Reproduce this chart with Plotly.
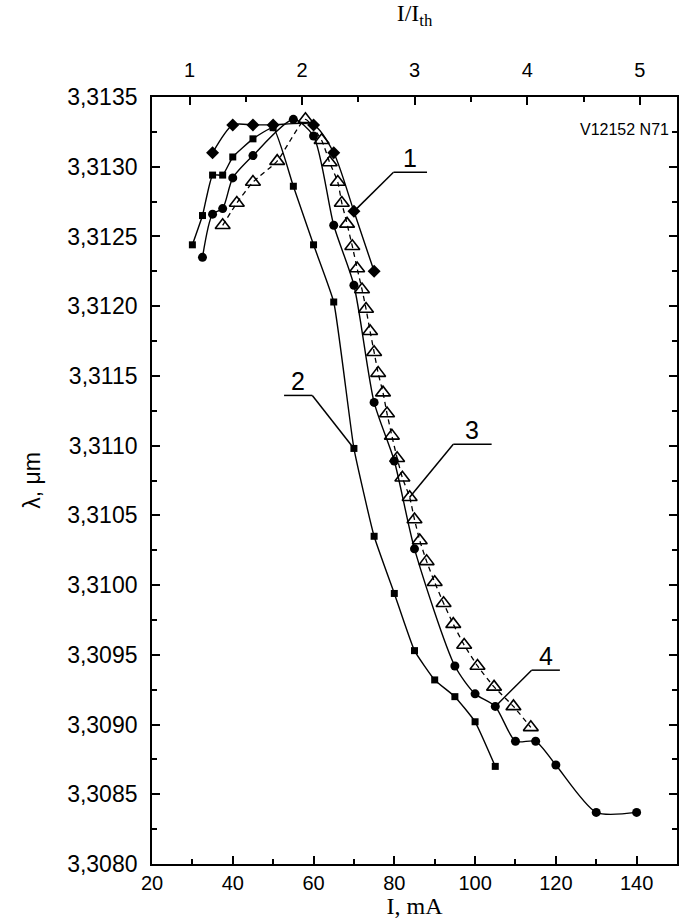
import plotly.graph_objects as go

# ---- measured data: lasing wavelength vs. drive current ----
# curve 1 (filled diamonds)
i1 = [35, 40, 45, 50, 60, 65, 70, 75]
lam1 = [3.31310, 3.31330, 3.31330, 3.31330, 3.31330, 3.31310, 3.31268, 3.31225]

# curve 2 (filled squares)
i2 = [30, 32.5, 35, 37.5, 40, 45, 50, 55, 60, 65, 70, 75, 80, 85, 90, 95, 100, 105]
lam2 = [3.31244, 3.31265, 3.31294, 3.31294, 3.31307, 3.31320, 3.31328, 3.31286,
        3.31244, 3.31203, 3.31098, 3.31035, 3.30994, 3.30953, 3.30932, 3.30920,
        3.30902, 3.30870]

# curve 3 (open triangles, dashed)
i3 = [37.5, 41, 45, 51, 58, 62, 64, 66, 67, 68.3, 69.6, 70.8, 72, 73, 74, 75, 76,
      77.2, 78.2, 79.4, 80.7, 82, 83.8, 85, 86.3, 88, 90, 92.2, 94.6, 97.3, 100.6,
      104.7, 109.5, 113.8]
lam3 = [3.31258, 3.31274, 3.31289, 3.31304, 3.31334, 3.31319, 3.31303, 3.31289,
        3.31274, 3.31259, 3.31243, 3.31227, 3.31212, 3.31198, 3.31182, 3.31167,
        3.31152, 3.31138, 3.31123, 3.31107, 3.31091, 3.31077, 3.31063, 3.31047,
        3.31032, 3.31017, 3.31002, 3.30987, 3.30972, 3.30957, 3.30942, 3.30927,
        3.30913, 3.30898]

# curve 4 (filled circles)
i4 = [32.5, 35, 37.5, 40, 45, 55, 60, 65, 70, 75, 80, 85, 95, 100, 105, 110, 115,
      120, 130, 140]
lam4 = [3.31235, 3.31266, 3.31270, 3.31292, 3.31308, 3.31334, 3.31322, 3.31258,
        3.31215, 3.31131, 3.31089, 3.31026, 3.30942, 3.30922, 3.30913, 3.30888,
        3.30888, 3.30871, 3.30837, 3.30837]

# axis ticks
x_ticks = [20, 40, 60, 80, 100, 120, 140]
x_ticktext = ["20", "40", "60", "80", "100", "120", "140"]
top_ticks = [1, 2, 3, 4, 5]
top_ticktext = ["1", "2", "3", "4", "5"]
y_ticks = [3.3080, 3.3085, 3.3090, 3.3095, 3.3100, 3.3105, 3.3110, 3.3115,
           3.3120, 3.3125, 3.3130, 3.3135]
y_ticktext = ["3,3080", "3,3085", "3,3090", "3,3095", "3,3100", "3,3105",
              "3,3110", "3,3115", "3,3120", "3,3125", "3,3130", "3,3135"]

X_RANGE = [20, 150]
Y_RANGE = [3.3080, 3.3135]
# I/I_th scale on the top axis (threshold current in mA and offset)
I_TH = 27.875
I_OFF = 1.42
TOP_RANGE = [(X_RANGE[0] - I_OFF) / I_TH, (X_RANGE[1] - I_OFF) / I_TH]

SANS = "Liberation Sans, Arial, sans-serif"
SERIF = "Liberation Serif, Times New Roman, serif"
BLACK = "#000000"

fig = go.Figure()

line_kw = dict(color=BLACK, width=1.4, shape="spline", smoothing=0.7)

fig.add_trace(go.Scatter(
    x=i2, y=lam2, mode="lines+markers", line=dict(**{**line_kw, "smoothing": 0.4}),
    marker=dict(symbol="square", size=7, color=BLACK), showlegend=False))
fig.add_trace(go.Scatter(
    x=i4, y=lam4, mode="lines+markers", line=line_kw,
    marker=dict(symbol="circle", size=9, color=BLACK), showlegend=False))
fig.add_trace(go.Scatter(
    x=i3, y=lam3, mode="lines+markers",
    line=dict(color=BLACK, width=1.3, dash="5px,4px", shape="spline", smoothing=0.5),
    marker=dict(symbol="triangle-up-open", size=13, color=BLACK,
                line=dict(width=1.6, color=BLACK)),
    showlegend=False))
fig.add_trace(go.Scatter(
    x=i1, y=lam1, mode="lines+markers", line=line_kw,
    marker=dict(symbol="diamond", size=10, color=BLACK), showlegend=False))

# numbered leader labels: (text, curve x, curve y, index, elbow dx, elbow dy, shelf length)
leaders = [
    ("1", i1, lam1, 6, 9.8, 0.00028, 8.3),
    ("2", i2, lam2, 10, -10.3, 0.00038, -7.0),
    ("3", i3, lam3, 22, 10.8, 0.00038, 9.5),
    ("4", i4, lam4, 14, 9.0, 0.00026, 7.0),
]
shapes = []
annotations = []
for txt, xs, ys, k, dx, dy, shelf in leaders:
    x0, y0 = xs[k], ys[k]
    ex, ey = x0 + dx, y0 + dy
    sx = ex + shelf
    shapes.append(dict(type="line", xref="x", yref="y", x0=x0, y0=y0, x1=ex, y1=ey,
                       line=dict(color=BLACK, width=1.5)))
    shapes.append(dict(type="line", xref="x", yref="y", x0=ex, y0=ey, x1=sx, y1=ey,
                       line=dict(color=BLACK, width=1.5)))
    annotations.append(dict(x=(ex + sx) / 2, y=ey, xref="x", yref="y", text=txt,
                            showarrow=False, yanchor="bottom", yshift=-2,
                            font=dict(family=SANS, size=25, color=BLACK)))

annotations.append(dict(x=148.5, y=3.31327, xref="x", yref="y", text="V12152 N71",
                        showarrow=False, xanchor="right", yanchor="middle",
                        font=dict(family=SANS, size=16, color=BLACK)))

axis_common = dict(showgrid=False, zeroline=False, linecolor=BLACK, linewidth=1.8,
                   ticks="inside", tickcolor=BLACK, tickwidth=1.5, ticklen=8)

fig.update_layout(
    width=683, height=919,
    margin=dict(l=152, r=4, t=97, b=51),
    paper_bgcolor="white", plot_bgcolor="white",
    xaxis=dict(**axis_common, range=X_RANGE, tickvals=x_ticks, ticktext=x_ticktext,
               showline=True, mirror=True,
               tickfont=dict(family=SANS, size=20, color=BLACK),
               minor=dict(dtick=10, tick0=20, ticks="inside", ticklen=5,
                          tickwidth=1.5, tickcolor=BLACK),
               title=dict(text="I, mA", standoff=4,
                          font=dict(family=SERIF, size=24, color=BLACK))),
    xaxis2=dict(**axis_common, range=TOP_RANGE, overlaying="x", side="top",
                anchor="y", tickvals=top_ticks, ticktext=top_ticktext,
                showline=True, ticklabelstandoff=10,
                tickfont=dict(family=SANS, size=20, color=BLACK),
                minor=dict(dtick=0.5, tick0=1, ticks="inside", ticklen=5,
                           tickwidth=1.5, tickcolor=BLACK),
                title=dict(text="I/I<sub>th</sub>", standoff=32,
                           font=dict(family=SERIF, size=24, color=BLACK))),
    yaxis=dict(**axis_common, range=Y_RANGE, tickvals=y_ticks, ticktext=y_ticktext,
               showline=True, mirror="ticks", ticklabelstandoff=8,
               tickfont=dict(family=SANS, size=23, color=BLACK),
               minor=dict(dtick=0.00025, tick0=3.308, ticks="inside", ticklen=5,
                          tickwidth=1.5, tickcolor=BLACK),
               title=dict(text="λ, μm", standoff=20,
                          font=dict(family=SANS, size=23, color=BLACK))),
    shapes=shapes,
    annotations=annotations,
)

# empty trace so the top axis is attached to the plot
fig.add_trace(go.Scatter(x=[], y=[], xaxis="x2", yaxis="y", showlegend=False))

fig.write_html("out.html")
